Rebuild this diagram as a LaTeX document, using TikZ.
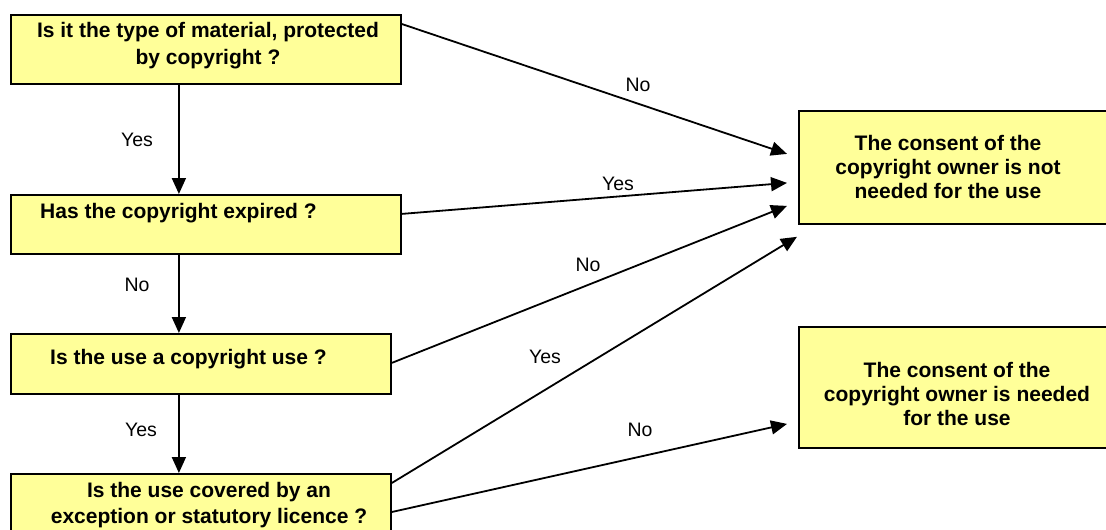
\documentclass[tikz,border=0pt]{standalone}
\usepackage{fontspec}
\setmainfont{Liberation Sans}
\usetikzlibrary{arrows.meta}
\definecolor{boxfill}{HTML}{FFFF99}
\begin{document}
\begin{tikzpicture}[x=1pt,y=-1pt,
  box/.style={draw=black, line width=1.8pt, fill=boxfill, anchor=north west, inner sep=0pt},
  qtext/.style={font=\fontsize{21}{26}\selectfont\bfseries, align=center, inner sep=0pt},
  lbl/.style={font=\fontsize{19.5}{22}\selectfont, inner sep=0pt},
  arr/.style={line width=1.8pt, -{Triangle[length=16pt,width=14pt]}}]
\useasboundingbox[fill=white] (0,0) rectangle (1106,530);

% boxes
\node[box, minimum width=390pt, minimum height=69pt] (b1) at (10,14) {};
\node[box, minimum width=390pt, minimum height=59pt] (b2) at (10,194) {};
\node[box, minimum width=380pt, minimum height=60pt] (b3) at (10,333) {};
\node[box, minimum width=380pt, minimum height=80pt] (b4) at (10,473) {};
\node[box, minimum width=320pt, minimum height=113pt] (r1) at (798,110) {};
\node[box, minimum width=320pt, minimum height=121pt] (r2) at (798,326) {};

% texts
\node[qtext, font=\fontsize{21}{27}\selectfont\bfseries] (t1) at (208,46) {Is it the type of material, protected\\by copyright ?};
\node[qtext, anchor=west] (t2) at (40,213) {Has the copyright expired ?};
\node[qtext, anchor=west] (t3) at (50,359) {Is the use a copyright use ?};
\node[qtext] (t4) at (209,505) {Is the use covered by an\\exception or statutory licence ?};
\node[qtext, font=\fontsize{21}{24}\selectfont\bfseries] (t5) at (948,167) {The consent of the\\copyright owner is not\\needed for the use};
\node[qtext, font=\fontsize{21}{24}\selectfont\bfseries] (t6) at (957,394) {The consent of the\\copyright owner is needed\\for the use};

% vertical connectors
\draw[arr] ([xshift=-27pt]b1.south) -- ([xshift=-27pt]b2.north);
\draw[arr] ([xshift=-27pt]b2.south) -- ([xshift=-22pt]b3.north);
\draw[arr] ([xshift=-22pt]b3.south) -- ([xshift=-22pt]b4.north);

% diagonal connectors
\draw[arr] ([yshift=-10pt]b1.north east) -- ([xshift=-11pt,yshift=13.5pt]r1.west);
\draw[arr] ([yshift=10.5pt]b2.east) -- ([xshift=-11pt,yshift=-15.5pt]r1.west);
\draw[arr] ([yshift=1pt]b3.east) -- ([xshift=-11pt,yshift=-38.5pt]r1.west);
\draw[arr] ([yshift=-10pt]b4.north east) -- ([xshift=-1pt,yshift=-12pt]r1.south west);
\draw[arr] ([yshift=-39pt]b4.north east) -- ([xshift=-11pt,yshift=-36.5pt]r2.west);

% labels
\node[lbl] (l1) at (137,140) {Yes};
\node[lbl] (l2) at (137,285) {No};
\node[lbl] (l3) at (141,430) {Yes};
\node[lbl] (l4) at (638,85) {No};
\node[lbl] (l5) at (618,184) {Yes};
\node[lbl] (l6) at (588,265) {No};
\node[lbl] (l7) at (545,357) {Yes};
\node[lbl] (l8) at (640,430) {No};
\end{tikzpicture}
\end{document}
